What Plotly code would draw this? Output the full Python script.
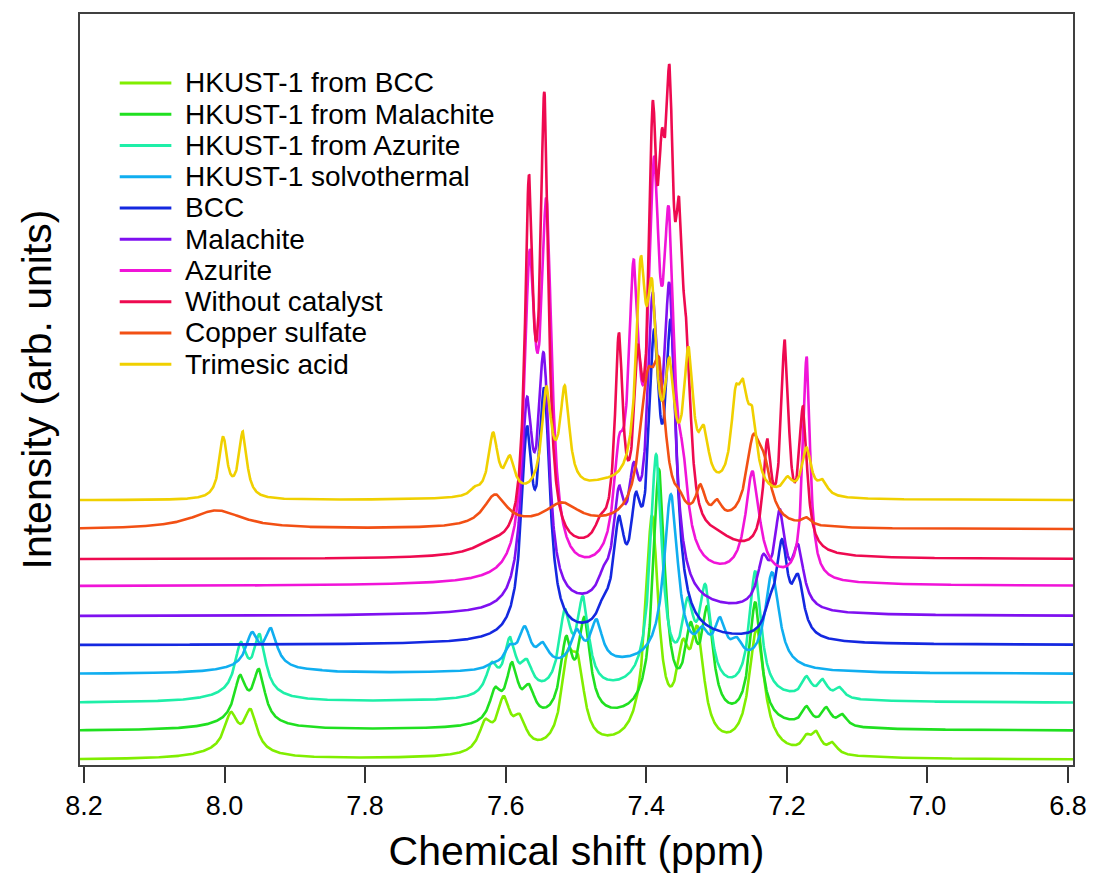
import numpy as np
import plotly.graph_objects as go

# ---------------- data ----------------
SERIES = ["HKUST-1 from BCC", "HKUST-1 from Malachite", "HKUST-1 from Azurite",
          "HKUST-1 solvothermal", "BCC", "Malachite", "Azurite",
          "Without catalyst", "Copper sulfate", "Trimesic acid"]
COLORS = ["#80EE00", "#20E020", "#1EEFA8", "#10AEF0", "#1428E0",
          "#7F10F0", "#F014D8", "#EE0A50", "#F25014", "#F0D000"]
OFFSETS = [5, 34, 62, 91, 120, 149, 179, 206, 236, 265]   # stacking offsets (arb. units)
DEFAULT_HWHM = [0.011, 0.010, 0.010, 0.010, 0.0095, 0.0095, 0.009, 0.0068, 0.010, 0.008]

# peaks: (shift ppm, apex height above own baseline, optional half width ppm)
PEAKS_HK_BCC = [(7.991, 48), (7.963, 51), (7.629, 41), (7.603, 64), (7.580, 46),
                (7.512, 110), (7.497, 105), (7.392, 245), (7.348, 121), (7.327, 134),
                (7.243, 131, 0.013), (7.172, 26, 0.008), (7.158, 29, 0.008), (7.135, 18, 0.008)]
BROAD_HK_BCC = [(7.99, 8, 0.05), (7.40, 10, 0.12)]

PEAKS_HK_MAL = [(7.978, 56), (7.951, 62), (7.615, 44), (7.591, 69), (7.567, 47),
                (7.514, 95), (7.488, 114), (7.382, 262), (7.337, 109), (7.313, 125),
                (7.245, 129), (7.172, 25, 0.008), (7.144, 24, 0.008), (7.121, 17, 0.008)]
BROAD_HK_MAL = [(7.97, 8, 0.05), (7.40, 10, 0.12)]

PEAKS_HK_AZU = [(7.977, 61), (7.950, 69), (7.620, 41), (7.594, 66), (7.570, 44),
                (7.516, 94), (7.490, 107), (7.386, 249), (7.341, 106), (7.316, 119),
                (7.245, 132), (7.172, 27, 0.008), (7.149, 24, 0.008), (7.125, 16, 0.008)]
BROAD_HK_AZU = [(7.97, 8, 0.05), (7.40, 10, 0.12)]

PEAKS_HK_SOLV = [(7.961, 42), (7.934, 46), (7.871, 5), (7.618, 12), (7.594, 30),
                 (7.573, 48), (7.547, 32), (7.499, 45), (7.471, 55), (7.365, 180, 0.012),
                 (7.320, 48), (7.295, 57), (7.271, 37), (7.221, 102, 0.012)]
BROAD_HK_SOLV = [(7.95, 7, 0.05), (7.40, 8, 0.12)]

PEAKS_BCC = [(7.570, 219), (7.545, 258), (7.461, 50), (7.439, 129), (7.415, 153),
             (7.389, 316), (7.365, 326), (7.224, 50), (7.207, 106), (7.184, 71)]
BROAD_BCC = [(7.40, 5, 0.12)]

PEAKS_MAL = [(7.570, 219), (7.546, 264), (7.461, 50), (7.439, 130), (7.418, 154),
             (7.391, 324), (7.367, 334), (7.234, 62), (7.210, 107), (7.184, 72)]
BROAD_MAL = [(7.40, 5, 0.12)]

PEAKS_AZU = [(7.566, 337), (7.542, 389), (7.439, 150), (7.418, 327), (7.389, 430),
             (7.368, 380), (7.348, 140), (7.249, 115, 0.012), (7.172, 230, 0.006)]
BROAD_AZU = [(7.40, 6, 0.12)]

PEAKS_NOCAT = [(7.567, 385), (7.545, 468), (7.465, 45, 0.010), (7.439, 227), (7.412, 215),
               (7.391, 458), (7.378, 430), (7.367, 495), (7.353, 362), (7.342, 230),
               (7.228, 120), (7.203, 220), (7.177, 153)]
BROAD_NOCAT = [(7.62, 10, 0.03), (7.30, 12, 0.03)]

PEAKS_CUSO4 = [(8.011, 19, 0.045), (7.615, 35, 0.020), (7.520, 27, 0.030), (7.398, 160, 0.014),
               (7.381, 170, 0.010), (7.353, 40, 0.008), (7.323, 45, 0.008), (7.299, 30, 0.008),
               (7.248, 95, 0.012), (7.232, 75, 0.012), (7.172, 12, 0.008)]
BROAD_CUSO4 = []

PEAKS_BTC = [(8.002, 64, 0.0068), (7.974, 69, 0.0068), (7.644, 14), (7.618, 68), (7.594, 45),
             (7.542, 114), (7.516, 115), (7.408, 244), (7.392, 222), (7.367, 143),
             (7.340, 154), (7.318, 75), (7.273, 114), (7.262, 121), (7.249, 93),
             (7.199, 24), (7.172, 53), (7.149, 21)]
BROAD_BTC = [(7.46, 10, 0.04)]

PEAK_SETS = [PEAKS_HK_BCC, PEAKS_HK_MAL, PEAKS_HK_AZU, PEAKS_HK_SOLV, PEAKS_BCC,
             PEAKS_MAL, PEAKS_AZU, PEAKS_NOCAT, PEAKS_CUSO4, PEAKS_BTC]
BROAD_SETS = [BROAD_HK_BCC, BROAD_HK_MAL, BROAD_HK_AZU, BROAD_HK_SOLV, BROAD_BCC,
              BROAD_MAL, BROAD_AZU, BROAD_NOCAT, BROAD_CUSO4, BROAD_BTC]

X_TICKS = [8.2, 8.0, 7.8, 7.6, 7.4, 7.2, 7.0, 6.8]
X_TICK_TEXT = ["8.2", "8.0", "7.8", "7.6", "7.4", "7.2", "7.0", "6.8"]

# ---------------- spectrum construction (Lorentzian line shapes) ----------------
shift = np.arange(6.79, 8.2101, 0.0005)


def lor(x, c, g):
    return g * g / (g * g + (x - c) ** 2)


def spectrum(peaks, broad, g0):
    cen = np.array([p[0] for p in peaks])
    tgt = np.array([p[1] for p in peaks], dtype=float)
    wid = np.array([p[2] if len(p) > 2 else g0 for p in peaks])
    bg_x = np.zeros_like(shift)
    bg_c = np.zeros_like(cen)
    for c, a, w in broad:
        bg_x += a * lor(shift, c, w)
        bg_c += a * lor(cen, c, w)
    M = lor(cen[:, None], cen[None, :], wid[None, :])
    amp = np.clip(tgt - bg_c, 0, None)
    for _ in range(400):
        resid = tgt - bg_c - M @ amp
        amp = np.clip(amp + 0.4 * resid, 0, None)
    y = bg_x.copy()
    for a, c, w in zip(amp, cen, wid):
        y += a * lor(shift, c, w)
    return y


fig = go.Figure()
for name, col, off, g0, pk, br in zip(SERIES, COLORS, OFFSETS, DEFAULT_HWHM, PEAK_SETS, BROAD_SETS):
    fig.add_trace(go.Scatter(x=shift, y=off + spectrum(pk, br, g0), mode="lines", name=name,
                             line=dict(color=col, width=2.6), showlegend=False,
                             hoverinfo="skip"))

# ---------------- manual legend (tight row spacing like the reference) ----------------
PL, PR, PT, PB = 80, 1080, 14, 766
W, H = PR - PL, PB - PT
row0, step = 83, 31.3
for i, (name, col) in enumerate(zip(SERIES, COLORS)):
    yp = (PB - (row0 + step * i)) / H
    fig.add_shape(type="line", xref="paper", yref="paper",
                  x0=(120 - PL) / W, x1=(172 - PL) / W, y0=yp, y1=yp,
                  line=dict(color=col, width=3))
    fig.add_annotation(xref="paper", yref="paper", x=(184 - PL) / W, y=yp,
                       xanchor="left", yanchor="middle", text=name, showarrow=False,
                       font=dict(family="Liberation Sans, Arial", size=28, color="black"))

fig.update_layout(
    width=1099, height=878,
    margin=dict(l=PL, r=1099 - PR, t=PT, b=878 - PB),
    paper_bgcolor="white", plot_bgcolor="white",
    font=dict(family="Liberation Sans, Arial", color="black"),
    showlegend=False,
    xaxis=dict(range=[8.2056, 6.793], tickvals=X_TICKS, ticktext=X_TICK_TEXT,
               ticks="outside", ticklen=16, tickwidth=1.5, tickcolor="#333",
               tickfont=dict(family="Liberation Sans Narrow, Arial Narrow, Liberation Sans",
                             size=27, color="black"),
               showline=True, mirror=True, linecolor="#404040", linewidth=2,
               showgrid=False, zeroline=False,
               title=dict(text="Chemical shift (ppm)", font=dict(size=41, color="black"),
                          standoff=16)),
    yaxis=dict(range=[0, 752], showticklabels=False, ticks="",
               showline=True, mirror=True, linecolor="#404040", linewidth=2,
               showgrid=False, zeroline=False,
               title=dict(text="Intensity (arb. units)", font=dict(size=41, color="black"),
                          standoff=14)),
)

fig.write_html("out.html")
